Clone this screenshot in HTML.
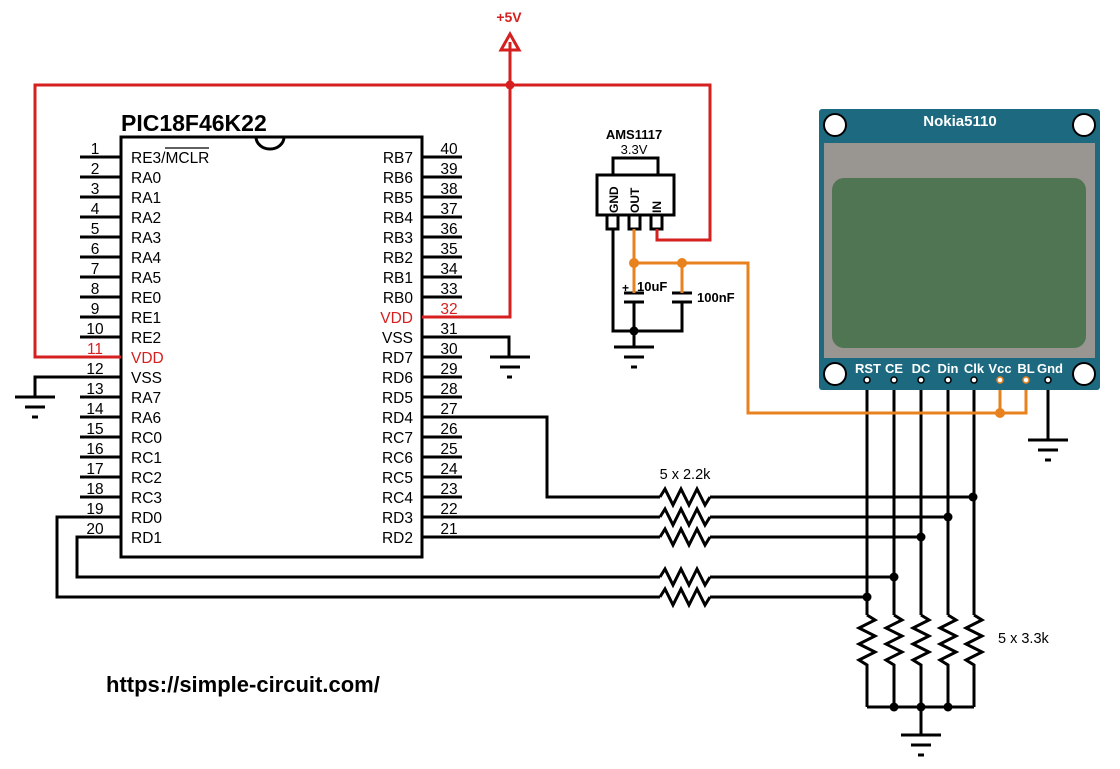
<!DOCTYPE html>
<html><head><meta charset="utf-8"><style>
html,body{margin:0;padding:0;background:#fff;}
svg{display:block;font-family:"Liberation Sans",Arial,sans-serif;}
.n{font-size:15.5px;text-anchor:middle;}
.l{font-size:15.5px;}
.r{font-size:15.5px;text-anchor:end;}
</style></head><body>
<svg width="1120" height="769" viewBox="0 0 1120 769" xmlns="http://www.w3.org/2000/svg">
<g fill="none" stroke="#000" stroke-width="3">
<path d="M121,557 V137 H422 V557 Z"/>
<path d="M256,137 A14,12 0 0 0 284,137"/>
<path d="M80,157H121M80,177H121M80,197H121M80,217H121M80,237H121M80,257H121M80,277H121M80,297H121M80,317H121M80,337H121M80,377H121M80,397H121M80,417H121M80,437H121M80,457H121M80,477H121M80,497H121"/>
<path d="M422,157H462M422,177H462M422,197H462M422,217H462M422,237H462M422,257H462M422,277H462M422,297H462M422,357H462M422,377H462M422,397H462M422,437H462M422,457H462M422,477H462M422,497H462"/>
<path d="M422,337H509V357M490,357H530M500,367H520M507,377H512"/>
<path d="M121,377H35V397M15,397H55M25,407H45M32,417H38"/>
<path d="M422,417H547V497H660M710,497H973"/>
<path d="M422,517H660M710,517H948"/>
<path d="M422,537H660M710,537H921"/>
<path d="M121,537H77V577H660M710,577H894"/>
<path d="M121,517H57V597H660M710,597H867"/>
<path d="M660,497l5,-8l8,16l8,-16l8,16l8,-16l8,16l5,-8"/>
<path d="M660,517l5,-8l8,16l8,-16l8,16l8,-16l8,16l5,-8"/>
<path d="M660,537l5,-8l8,16l8,-16l8,16l8,-16l8,16l5,-8"/>
<path d="M660,577l5,-8l8,16l8,-16l8,16l8,-16l8,16l5,-8"/>
<path d="M660,597l5,-8l8,16l8,-16l8,16l8,-16l8,16l5,-8"/>
<path d="M867,380V615M894,380V615M921,380V615M948,380V615M974,380V615"/>
<path d="M867,615l8,5l-16,8l16,8l-16,8l16,8l-16,8l8,5V707"/>
<path d="M894,615l8,5l-16,8l16,8l-16,8l16,8l-16,8l8,5V707"/>
<path d="M921,615l8,5l-16,8l16,8l-16,8l16,8l-16,8l8,5V707"/>
<path d="M948,615l8,5l-16,8l16,8l-16,8l16,8l-16,8l8,5V707"/>
<path d="M974,615l8,5l-16,8l16,8l-16,8l16,8l-16,8l8,5V707"/>
<path d="M867,707H974M921,707V735M901,735H941M911,745H931M918,755H924"/>
<path d="M1048,380V440M1028,440H1068M1038,450H1058M1045,460H1051"/>
<rect x="613" y="158" width="45" height="17"/>
<rect x="597" y="175" width="77" height="40"/>
<rect x="607" y="215" width="11" height="14"/>
<rect x="629" y="215" width="11" height="14"/>
<rect x="651" y="215" width="11" height="14"/>
<path d="M613,229V331H682V302M634,302V331M634,331V347M614,347H654M624,357H644M631,367H637"/>
<path d="M624,293H644M624,302H644M672,293H692M672,302H692"/>
</g>
<g fill="none" stroke="#d61f1f" stroke-width="3">
<path d="M121,357H35V85H710V240H657V229"/>
<path d="M422,317H510V42"/>
<path d="M501,50L510,34L519,50Z"/>
</g>
<circle cx="510" cy="85" r="4.5" fill="#d61f1f"/>
<g fill="none" stroke="#e8821e" stroke-width="3">
<path d="M634,229V293M634,263H748V413H1026V380M1000,413V380M682,263V293"/>
</g>
<circle cx="634" cy="263" r="5" fill="#e8821e"/>
<circle cx="682" cy="263" r="5" fill="#e8821e"/>
<circle cx="1000" cy="413" r="5" fill="#e8821e"/>
<g fill="#000">
<circle cx="634" cy="331" r="4.5"/>
<circle cx="973" cy="497" r="4.5"/><circle cx="948" cy="517" r="4.5"/><circle cx="921" cy="537" r="4.5"/><circle cx="894" cy="577" r="4.5"/><circle cx="867" cy="597" r="4.5"/>
<circle cx="894" cy="707" r="4.5"/><circle cx="921" cy="707" r="4.5"/><circle cx="948" cy="707" r="4.5"/>
</g>
<rect x="819" y="109" width="281" height="281" rx="3" fill="#1d6a80"/>
<rect x="824" y="143" width="271" height="215" fill="#999590"/>
<rect x="832" y="178" width="254" height="170" rx="12" fill="#507552"/>
<g fill="#fff" stroke="#000" stroke-width="2">
<circle cx="835" cy="125" r="11"/><circle cx="1084" cy="125" r="11"/><circle cx="835" cy="374" r="11"/><circle cx="1084" cy="374" r="11"/>
</g>
<text x="960" y="126" fill="#fff" font-size="15" font-weight="bold" text-anchor="middle">Nokia5110</text>
<g fill="#fff" font-size="13" font-weight="bold" text-anchor="middle">
<text x="868" y="373">RST</text><text x="894" y="373">CE</text><text x="921" y="373">DC</text><text x="948" y="373">Din</text><text x="974" y="373">Clk</text><text x="1000" y="373">Vcc</text><text x="1026" y="373">BL</text><text x="1050" y="373">Gnd</text>
</g>
<g fill="#fff" stroke="#000" stroke-width="1.5">
<circle cx="867" cy="380" r="3"/><circle cx="894" cy="380" r="3"/><circle cx="921" cy="380" r="3"/><circle cx="948" cy="380" r="3"/><circle cx="974" cy="380" r="3"/><circle cx="1048" cy="380" r="3"/>
</g>
<g fill="#fff" stroke="#e8821e" stroke-width="1.5"><circle cx="1000" cy="380" r="3"/><circle cx="1026" cy="380" r="3"/></g>
<text x="121" y="131" font-size="23" font-weight="bold">PIC18F46K22</text>
<text x="509" y="22" font-size="14" font-weight="bold" fill="#d61f1f" text-anchor="middle">+5V</text>
<text x="634" y="139" font-size="13" font-weight="bold" text-anchor="middle">AMS1117</text>
<text x="634" y="154" font-size="13" text-anchor="middle">3.3V</text>
<g font-size="12" font-weight="bold">
<text x="618" y="213" transform="rotate(-90 618 213)">GND</text>
<text x="639" y="213" transform="rotate(-90 639 213)">OUT</text>
<text x="661" y="213" transform="rotate(-90 661 213)">IN</text>
</g>
<text x="622" y="292" font-size="12" font-weight="bold">+</text>
<text x="637" y="291" font-size="13" font-weight="bold">10uF</text>
<text x="697" y="302" font-size="13" font-weight="bold">100nF</text>
<text x="685" y="479" font-size="14.5" text-anchor="middle">5 x 2.2k</text>
<text x="998" y="643" font-size="14.5">5 x 3.3k</text>
<text x="106" y="692" font-size="22" font-weight="bold">https://simple-circuit.com/</text>
<g class="n">
<text x="95" y="154">1</text><text x="95" y="174">2</text><text x="95" y="194">3</text><text x="95" y="214">4</text><text x="95" y="234">5</text><text x="95" y="254">6</text><text x="95" y="274">7</text><text x="95" y="294">8</text><text x="95" y="314">9</text><text x="95" y="334">10</text><text x="95" y="354" fill="#d61f1f">11</text><text x="95" y="374">12</text><text x="95" y="394">13</text><text x="95" y="414">14</text><text x="95" y="434">15</text><text x="95" y="454">16</text><text x="95" y="474">17</text><text x="95" y="494">18</text><text x="95" y="514">19</text><text x="95" y="534">20</text>
</g>
<g class="l">
<text x="131" y="163">RE3/MCLR</text>
<text x="131" y="183">RA0</text><text x="131" y="203">RA1</text><text x="131" y="223">RA2</text><text x="131" y="243">RA3</text><text x="131" y="263">RA4</text><text x="131" y="283">RA5</text><text x="131" y="303">RE0</text><text x="131" y="323">RE1</text><text x="131" y="343">RE2</text><text x="131" y="363" fill="#d61f1f">VDD</text><text x="131" y="383">VSS</text><text x="131" y="403">RA7</text><text x="131" y="423">RA6</text><text x="131" y="443">RC0</text><text x="131" y="463">RC1</text><text x="131" y="483">RC2</text><text x="131" y="503">RC3</text><text x="131" y="523">RD0</text><text x="131" y="543">RD1</text>
</g>
<path d="M165,148H209" stroke="#000" stroke-width="1.3"/>
<g class="n">
<text x="449" y="154">40</text><text x="449" y="174">39</text><text x="449" y="194">38</text><text x="449" y="214">37</text><text x="449" y="234">36</text><text x="449" y="254">35</text><text x="449" y="274">34</text><text x="449" y="294">33</text><text x="449" y="314" fill="#d61f1f">32</text><text x="449" y="334">31</text><text x="449" y="354">30</text><text x="449" y="374">29</text><text x="449" y="394">28</text><text x="449" y="414">27</text><text x="449" y="434">26</text><text x="449" y="454">25</text><text x="449" y="474">24</text><text x="449" y="494">23</text><text x="449" y="514">22</text><text x="449" y="534">21</text>
</g>
<g class="r">
<text x="413" y="163">RB7</text><text x="413" y="183">RB6</text><text x="413" y="203">RB5</text><text x="413" y="223">RB4</text><text x="413" y="243">RB3</text><text x="413" y="263">RB2</text><text x="413" y="283">RB1</text><text x="413" y="303">RB0</text><text x="413" y="323" fill="#d61f1f">VDD</text><text x="413" y="343">VSS</text><text x="413" y="363">RD7</text><text x="413" y="383">RD6</text><text x="413" y="403">RD5</text><text x="413" y="423">RD4</text><text x="413" y="443">RC7</text><text x="413" y="463">RC6</text><text x="413" y="483">RC5</text><text x="413" y="503">RC4</text><text x="413" y="523">RD3</text><text x="413" y="543">RD2</text>
</g>
</svg>
</body></html>
